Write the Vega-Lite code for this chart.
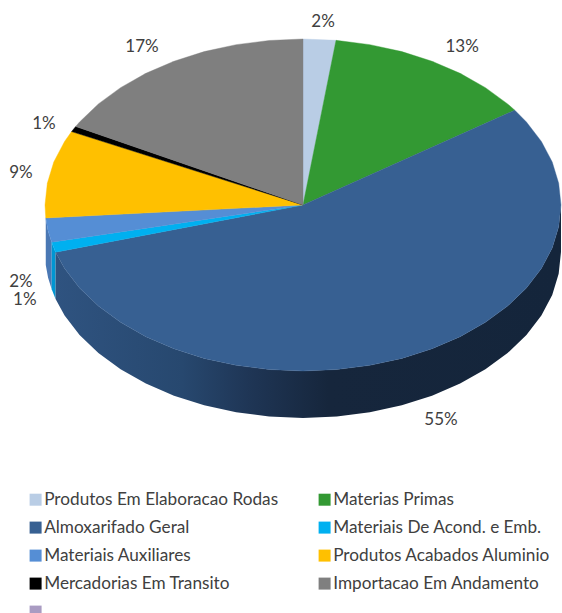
{"$schema":"https://vega.github.io/schema/vega-lite/v6.json","width":562,"height":613,"padding":0,"autosize":{"type":"none"},"background":"white","config":{"view":{"stroke":null}},
"datasets":{
"top":[
{"slice":"Produtos Em Elaboracao Rodas","i":0,"u":0,"v":0},{"slice":"Produtos Em Elaboracao Rodas","i":1,"u":0,"v":1},{"slice":"Produtos Em Elaboracao Rodas","i":2,"u":0.128,"v":0.992},
{"slice":"Materias Primas","i":0,"u":0,"v":0},{"slice":"Materias Primas","i":1,"u":0.128,"v":0.992},{"slice":"Materias Primas","i":2,"u":0.259,"v":0.966},{"slice":"Materias Primas","i":3,"u":0.383,"v":0.924},{"slice":"Materias Primas","i":4,"u":0.5,"v":0.866},{"slice":"Materias Primas","i":5,"u":0.609,"v":0.793},{"slice":"Materias Primas","i":6,"u":0.707,"v":0.707},{"slice":"Materias Primas","i":7,"u":0.793,"v":0.609},{"slice":"Materias Primas","i":8,"u":0.821,"v":0.571},
{"slice":"Almoxarifado Geral","i":0,"u":0,"v":0},{"slice":"Almoxarifado Geral","i":1,"u":0.821,"v":0.571},{"slice":"Almoxarifado Geral","i":2,"u":0.866,"v":0.5},{"slice":"Almoxarifado Geral","i":3,"u":0.924,"v":0.383},{"slice":"Almoxarifado Geral","i":4,"u":0.966,"v":0.259},{"slice":"Almoxarifado Geral","i":5,"u":0.991,"v":0.131},{"slice":"Almoxarifado Geral","i":6,"u":1,"v":0},{"slice":"Almoxarifado Geral","i":7,"u":0.991,"v":-0.131},{"slice":"Almoxarifado Geral","i":8,"u":0.966,"v":-0.259},{"slice":"Almoxarifado Geral","i":9,"u":0.924,"v":-0.383},{"slice":"Almoxarifado Geral","i":10,"u":0.866,"v":-0.5},{"slice":"Almoxarifado Geral","i":11,"u":0.793,"v":-0.609},{"slice":"Almoxarifado Geral","i":12,"u":0.707,"v":-0.707},{"slice":"Almoxarifado Geral","i":13,"u":0.609,"v":-0.793},{"slice":"Almoxarifado Geral","i":14,"u":0.5,"v":-0.866},{"slice":"Almoxarifado Geral","i":15,"u":0.383,"v":-0.924},{"slice":"Almoxarifado Geral","i":16,"u":0.259,"v":-0.966},{"slice":"Almoxarifado Geral","i":17,"u":0.131,"v":-0.991},{"slice":"Almoxarifado Geral","i":18,"u":0,"v":-1},{"slice":"Almoxarifado Geral","i":19,"u":-0.131,"v":-0.991},{"slice":"Almoxarifado Geral","i":20,"u":-0.259,"v":-0.966},{"slice":"Almoxarifado Geral","i":21,"u":-0.383,"v":-0.924},{"slice":"Almoxarifado Geral","i":22,"u":-0.5,"v":-0.866},{"slice":"Almoxarifado Geral","i":23,"u":-0.609,"v":-0.793},{"slice":"Almoxarifado Geral","i":24,"u":-0.707,"v":-0.707},{"slice":"Almoxarifado Geral","i":25,"u":-0.793,"v":-0.609},{"slice":"Almoxarifado Geral","i":26,"u":-0.866,"v":-0.5},{"slice":"Almoxarifado Geral","i":27,"u":-0.924,"v":-0.383},{"slice":"Almoxarifado Geral","i":28,"u":-0.959,"v":-0.284},
{"slice":"Materiais De Acond. e Emb.","i":0,"u":0,"v":0},{"slice":"Materiais De Acond. e Emb.","i":1,"u":-0.959,"v":-0.284},{"slice":"Materiais De Acond. e Emb.","i":2,"u":-0.974,"v":-0.224},
{"slice":"Materiais Auxiliares","i":0,"u":0,"v":0},{"slice":"Materiais Auxiliares","i":1,"u":-0.974,"v":-0.224},{"slice":"Materiais Auxiliares","i":2,"u":-0.988,"v":-0.156},{"slice":"Materiais Auxiliares","i":3,"u":-0.997,"v":-0.078},
{"slice":"Produtos Acabados Aluminio","i":0,"u":0,"v":0},{"slice":"Produtos Acabados Aluminio","i":1,"u":-0.997,"v":-0.078},{"slice":"Produtos Acabados Aluminio","i":2,"u":-1,"v":0},{"slice":"Produtos Acabados Aluminio","i":3,"u":-0.991,"v":0.131},{"slice":"Produtos Acabados Aluminio","i":4,"u":-0.966,"v":0.259},{"slice":"Produtos Acabados Aluminio","i":5,"u":-0.924,"v":0.383},{"slice":"Produtos Acabados Aluminio","i":6,"u":-0.897,"v":0.442},
{"slice":"Mercadorias Em Transito","i":0,"u":0,"v":0},{"slice":"Mercadorias Em Transito","i":1,"u":-0.897,"v":0.442},{"slice":"Mercadorias Em Transito","i":2,"u":-0.881,"v":0.473},
{"slice":"Importacao Em Andamento","i":0,"u":0,"v":0},{"slice":"Importacao Em Andamento","i":1,"u":-0.881,"v":0.473},{"slice":"Importacao Em Andamento","i":2,"u":-0.866,"v":0.5},{"slice":"Importacao Em Andamento","i":3,"u":-0.793,"v":0.609},{"slice":"Importacao Em Andamento","i":4,"u":-0.707,"v":0.707},{"slice":"Importacao Em Andamento","i":5,"u":-0.609,"v":0.793},{"slice":"Importacao Em Andamento","i":6,"u":-0.5,"v":0.866},{"slice":"Importacao Em Andamento","i":7,"u":-0.383,"v":0.924},{"slice":"Importacao Em Andamento","i":8,"u":-0.259,"v":0.966},{"slice":"Importacao Em Andamento","i":9,"u":-0.131,"v":0.991},{"slice":"Importacao Em Andamento","i":10,"u":0,"v":1}
],
"wall":[
{"part":"blue","u":-0.959,"v":-0.284,"w":-0.567},{"part":"blue","u":-0.924,"v":-0.383,"w":-0.666},{"part":"blue","u":-0.866,"v":-0.5,"w":-0.783},{"part":"blue","u":-0.793,"v":-0.609,"w":-0.892},{"part":"blue","u":-0.707,"v":-0.707,"w":-0.99},{"part":"blue","u":-0.609,"v":-0.793,"w":-1.076},{"part":"blue","u":-0.5,"v":-0.866,"w":-1.149},{"part":"blue","u":-0.383,"v":-0.924,"w":-1.207},{"part":"blue","u":-0.259,"v":-0.966,"w":-1.249},{"part":"blue","u":-0.131,"v":-0.991,"w":-1.274},{"part":"blue","u":0,"v":-1,"w":-1.283},{"part":"blue","u":0.131,"v":-0.991,"w":-1.274},{"part":"blue","u":0.259,"v":-0.966,"w":-1.249},{"part":"blue","u":0.383,"v":-0.924,"w":-1.207},{"part":"blue","u":0.5,"v":-0.866,"w":-1.149},{"part":"blue","u":0.609,"v":-0.793,"w":-1.076},{"part":"blue","u":0.707,"v":-0.707,"w":-0.99},{"part":"blue","u":0.793,"v":-0.609,"w":-0.892},{"part":"blue","u":0.866,"v":-0.5,"w":-0.783},{"part":"blue","u":0.924,"v":-0.383,"w":-0.666},{"part":"blue","u":0.966,"v":-0.259,"w":-0.542},{"part":"blue","u":0.991,"v":-0.131,"w":-0.414},{"part":"blue","u":1,"v":0,"w":-0.283},
{"part":"cyan","u":-0.974,"v":-0.224,"w":-0.507},{"part":"cyan","u":-0.959,"v":-0.284,"w":-0.567},
{"part":"aux","u":-0.997,"v":-0.078,"w":-0.361},{"part":"aux","u":-0.988,"v":-0.156,"w":-0.439},{"part":"aux","u":-0.974,"v":-0.224,"w":-0.507}
],
"labels":[
{"slice":"Produtos Em Elaboracao Rodas","label":"2%","u":0.078,"v":1.11},
{"slice":"Materias Primas","label":"13%","u":0.617,"v":0.961},
{"slice":"Almoxarifado Geral","label":"55%","u":0.535,"v":-1.289},
{"slice":"Materiais De Acond. e Emb.","label":"1%","u":-1.078,"v":-0.566},
{"slice":"Materiais Auxiliares","label":"2%","u":-1.093,"v":-0.452},
{"slice":"Produtos Acabados Aluminio","label":"9%","u":-1.093,"v":0.199},
{"slice":"Mercadorias Em Transito","label":"1%","u":-1.004,"v":0.494},
{"slice":"Importacao Em Andamento","label":"17%","u":-0.624,"v":0.961}
]},
"layer":[
{"data":{"name":"wall"},"transform":[{"filter":"datum.part==='aux'"}],"mark":{"type":"area","fill":"#4a78b4"},"encoding":{"x":{"field":"u","type":"quantitative","scale":{"domain":[-1.1744,1.0039],"nice":false,"zero":false},"axis":null},"y":{"field":"v","type":"quantitative","scale":{"domain":[-2.4578,1.2349],"nice":false,"zero":false},"axis":null},"y2":{"field":"w"}}},
{"data":{"name":"wall"},"transform":[{"filter":"datum.part==='cyan'"}],"mark":{"type":"area","fill":"#0096d2"},"encoding":{"x":{"field":"u","type":"quantitative","axis":null},"y":{"field":"v","type":"quantitative","axis":null},"y2":{"field":"w"}}},
{"data":{"name":"wall"},"transform":[{"filter":"datum.part==='blue'"}],"mark":{"type":"area","fill":{"gradient":"linear","x1":0,"y1":0,"x2":1,"y2":0,"stops":[{"offset":0,"color":"#2f5380"},{"offset":0.25,"color":"#27486f"},{"offset":0.38,"color":"#1f3656"},{"offset":0.54,"color":"#16263c"},{"offset":1,"color":"#14253b"}]}},"encoding":{"x":{"field":"u","type":"quantitative","axis":null},"y":{"field":"v","type":"quantitative","axis":null},"y2":{"field":"w"}}},
{"data":{"name":"top"},"mark":{"type":"line","interpolate":"linear-closed","strokeWidth":0.4},"encoding":{"x":{"field":"u","type":"quantitative","axis":null},"y":{"field":"v","type":"quantitative","axis":null},"order":{"field":"i","type":"quantitative"},
"fill":{"field":"slice","type":"nominal","scale":{"domain":["Produtos Em Elaboracao Rodas","Almoxarifado Geral","Materiais Auxiliares","Mercadorias Em Transito"," ","Materias Primas","Materiais De Acond. e Emb.","Produtos Acabados Aluminio","Importacao Em Andamento"],"range":["#b9cde5","#376092","#558ed5","#000000","#a99bc2","#339933","#00b0f0","#ffc000","#7f7f7f"]},"legend":{"orient":"none","legendX":27,"legendY":491,"columns":2,"title":null,"symbolType":"square","symbolSize":144,"symbolStrokeWidth":0,"labelFont":"Lato","labelFontSize":17.2,"labelColor":"#404040","labelOffset":0,"columnPadding":37,"rowPadding":10,"padding":0,"labelLimit":300,"values":["Produtos Em Elaboracao Rodas","Almoxarifado Geral","Materiais Auxiliares","Mercadorias Em Transito"," ","Materias Primas","Materiais De Acond. e Emb.","Produtos Acabados Aluminio","Importacao Em Andamento"]}},
"stroke":{"field":"slice","type":"nominal","legend":null,"scale":{"domain":["Produtos Em Elaboracao Rodas","Almoxarifado Geral","Materiais Auxiliares","Mercadorias Em Transito"," ","Materias Primas","Materiais De Acond. e Emb.","Produtos Acabados Aluminio","Importacao Em Andamento"],"range":["#b9cde5","#376092","#558ed5","#000000","#a99bc2","#339933","#00b0f0","#ffc000","#7f7f7f"]}}}},
{"data":{"name":"labels"},"mark":{"type":"text","font":"Lato","fontSize":17,"color":"#404040","align":"center","baseline":"middle","dy":1.5},"encoding":{"x":{"field":"u","type":"quantitative","axis":null},"y":{"field":"v","type":"quantitative","axis":null},"text":{"field":"label"}}}
]}
